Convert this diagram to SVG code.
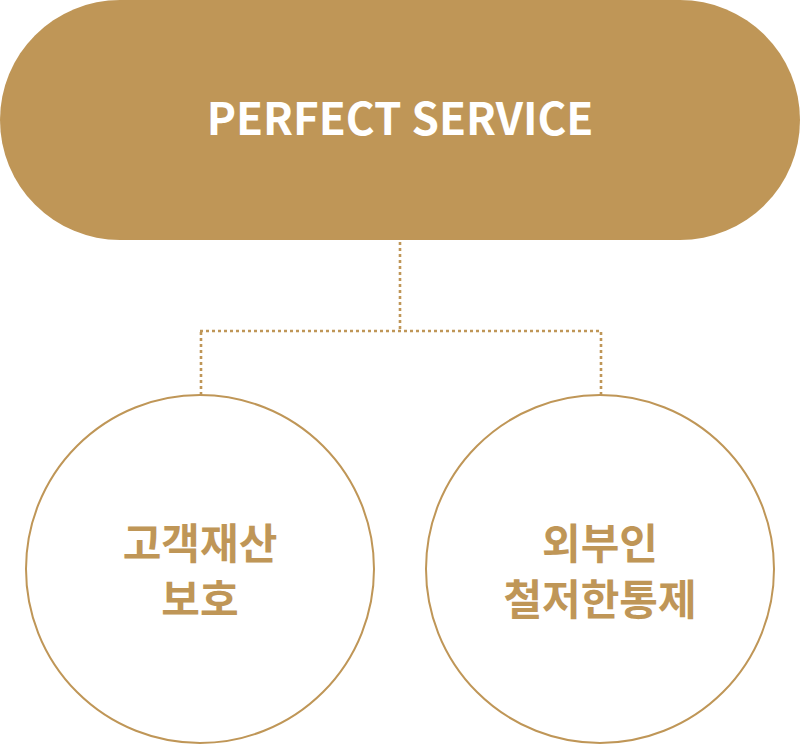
<svg xmlns="http://www.w3.org/2000/svg" width="800" height="744" viewBox="0 0 800 744">
<style>
.title{font-family:"Noto Sans CJK KR","Noto Sans",sans-serif;font-weight:700;font-size:44px;fill:#ffffff;text-anchor:middle}
.lbl{font-family:"Noto Sans CJK KR",sans-serif;font-weight:700;font-size:42px;fill:#bf9657;text-anchor:middle}
.conn{fill:none;stroke:#bf9657;stroke-width:2.6;stroke-dasharray:3 3}
.circ{fill:#ffffff;stroke:#bf9657;stroke-width:2}
</style>
<rect width="800" height="744" fill="#ffffff"/>
<g id="connectors">
<path class="conn" d="M400,242 V331"/>
<path class="conn" d="M200,331 H600"/>
<path class="conn" d="M201,332 V395"/>
<path class="conn" d="M601,332 V395"/>
</g>
<g id="perfect-service">
<rect x="0" y="0" width="800" height="240" rx="120" ry="120" fill="#bf9657"/>
<text class="title" x="400" y="135">PERFECT SERVICE</text>
</g>
<g id="customer-property">
<circle class="circ" cx="200" cy="569" r="174"/>
<text class="lbl" x="200" y="559">고객재산</text>
<text class="lbl" x="200" y="615">보호</text>
</g>
<g id="outsider-control">
<circle class="circ" cx="600" cy="569" r="174"/>
<text class="lbl" x="600" y="559">외부인</text>
<text class="lbl" x="600" y="615">철저한통제</text>
</g>
</svg>
